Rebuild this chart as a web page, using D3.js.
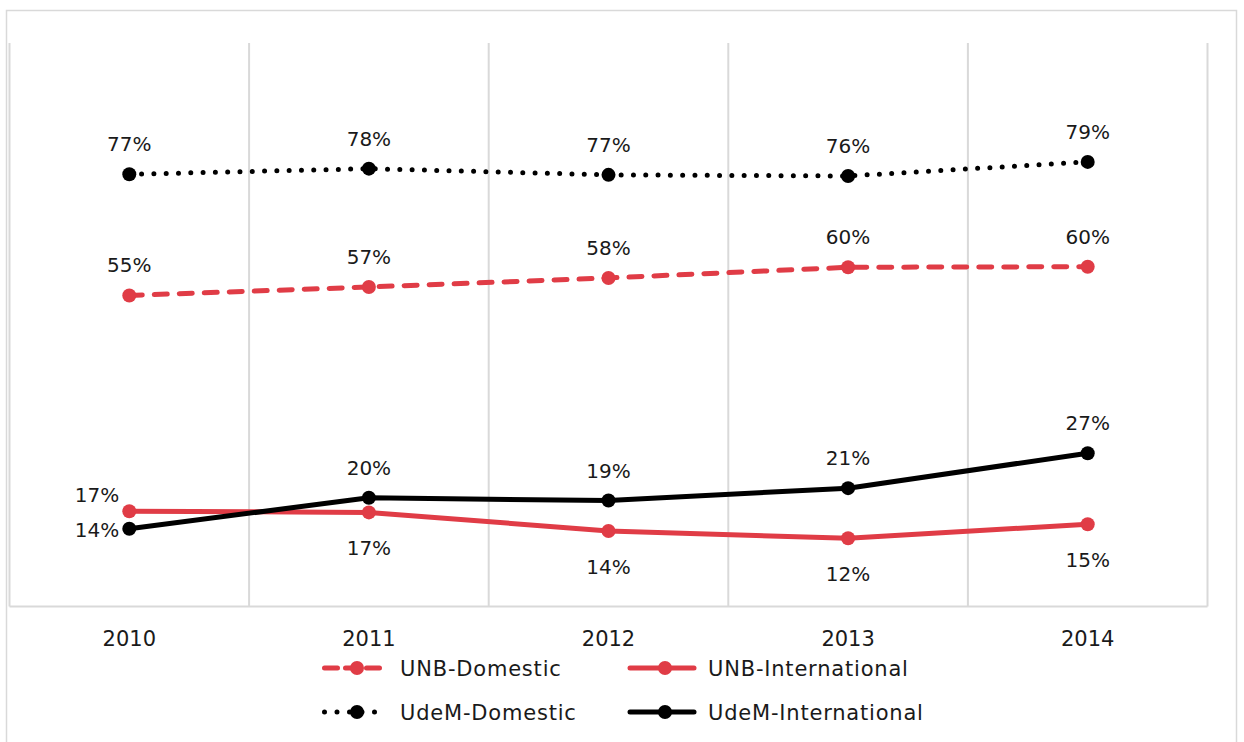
<!DOCTYPE html>
<html>
<head>
<meta charset="utf-8">
<script src="https://cdn.jsdelivr.net/npm/d3@7"></script>
<style>
  body { margin: 0; background: #fff; }
  svg text { font-family: "DejaVu Sans", "Lato", sans-serif; fill: #1a1a1a; }
</style>
</head>
<body>
<div id="chart"></div>
<script>
// data (percent)
const years = ["2010", "2011", "2012", "2013", "2014"];
const unbDomestic = [55.2, 56.7, 58.3, 60.2, 60.3];
const unbInternational = [16.9, 16.7, 13.4, 12.1, 14.6];
const udemDomestic = [76.7, 77.7, 76.6, 76.4, 78.9];
const udemInternational = [13.8, 19.3, 18.8, 21.0, 27.2];
const unbDomLabels = ["55%", "57%", "58%", "60%", "60%"];
const unbIntLabels = ["17%", "17%", "14%", "12%", "15%"];
const udemDomLabels = ["77%", "78%", "77%", "76%", "79%"];
const udemIntLabels = ["14%", "20%", "19%", "21%", "27%"];

const W = 1244, H = 742;
const red = "#E03C46", black = "#000";

const series = [
  { name: "UNB-Domestic", values: unbDomestic, labels: unbDomLabels, color: red, dash: "13,12", legDash: "13,8", pos: ["above", "above", "above", "above", "above"] },
  { name: "UNB-International", values: unbInternational, labels: unbIntLabels, color: red, dash: null, legDash: null, pos: ["upleft", "below", "below", "below", "below"] },
  { name: "UdeM-Domestic", values: udemDomestic, labels: udemDomLabels, color: black, dash: "0,12.3", legDash: "0,12.5", pos: ["above", "above", "above", "above", "above"] },
  { name: "UdeM-International", values: udemInternational, labels: udemIntLabels, color: black, dash: null, legDash: null, pos: ["left", "above", "above", "above", "above"] }
];

const svg = d3.select("#chart").append("svg")
  .attr("width", W).attr("height", H);

// outer chart border
svg.append("rect")
  .attr("x", 6.5).attr("y", 10.5)
  .attr("width", 1230).attr("height", 740)
  .attr("fill", "none").attr("stroke", "#d9d9d9").attr("stroke-width", 1.5);

const plot = { left: 9.5, right: 1207.5, top: 43, bottom: 606.5 };

const x = d3.scaleBand().domain(years).range([plot.left, plot.right]);
const y = d3.scaleLinear().domain([0, 100]).range([plot.bottom, plot.top]);

// vertical grid lines between categories
const gridX = years.map(d => x(d)).concat([plot.right]);
svg.append("g").selectAll("line")
  .data(gridX).enter().append("line")
  .attr("x1", d => d).attr("x2", d => d)
  .attr("y1", plot.top).attr("y2", plot.bottom)
  .attr("stroke", "#d9d9d9").attr("stroke-width", 2);

// baseline
svg.append("line")
  .attr("x1", plot.left).attr("x2", plot.right)
  .attr("y1", plot.bottom).attr("y2", plot.bottom)
  .attr("stroke", "#d9d9d9").attr("stroke-width", 2);

// x axis labels
const xAxis = d3.axisBottom(x).tickSize(0).tickPadding(25);
const gx = svg.append("g").attr("transform", `translate(0,${plot.bottom})`).call(xAxis);
gx.select(".domain").remove();
gx.selectAll("text").style("font-size", "21px").style("font-family", "DejaVu Sans").attr("fill", "#1a1a1a");

const cx = d => x(d) + x.bandwidth() / 2;

const line = d3.line()
  .x((d, i) => cx(years[i]))
  .y(d => y(d));

// draw series
series.forEach(s => {
  const g = svg.append("g");
  g.append("path")
    .attr("d", line(s.values))
    .attr("fill", "none")
    .attr("stroke", s.color)
    .attr("stroke-width", 5)
    .attr("stroke-linecap", "round")
    .attr("stroke-linejoin", "round")
    .attr("stroke-dasharray", s.dash);
  g.selectAll("circle").data(s.values).enter().append("circle")
    .attr("cx", (d, i) => cx(years[i]))
    .attr("cy", d => y(d))
    .attr("r", 7)
    .attr("fill", s.color);
  g.selectAll("text").data(s.values).enter().append("text")
    .attr("x", (d, i) => {
      const p = s.pos[i];
      return (p === "left" || p === "upleft") ? cx(years[i]) - 10 : cx(years[i]);
    })
    .attr("y", (d, i) => {
      const p = s.pos[i];
      if (p === "above") return y(d) - 23;
      if (p === "below") return y(d) + 43;
      if (p === "upleft") return y(d) - 9;
      return y(d) + 8;
    })
    .attr("text-anchor", (d, i) => (s.pos[i] === "left" || s.pos[i] === "upleft") ? "end" : "middle")
    .style("font-size", "20px")
    .text((d, i) => s.labels[i]);
});

// legend
const legendPos = [
  { lx: 322, ty: 668 }, { lx: 630, ty: 668 },
  { lx: 322, ty: 712 }, { lx: 630, ty: 712 }
];
series.forEach((s, i) => {
  const p = legendPos[i];
  const g = svg.append("g").attr("transform", `translate(${p.lx},${p.ty})`);
  const len = 64;
  g.append("line")
    .attr("x1", s.dash ? 2.5 : 0).attr("x2", s.dash ? len - 2 : len)
    .attr("y1", 0).attr("y2", 0)
    .attr("stroke", s.color).attr("stroke-width", 5)
    .attr("stroke-linecap", "round")
    .attr("stroke-dasharray", s.legDash);
  g.append("circle").attr("cx", 35).attr("cy", 0).attr("r", 7).attr("fill", s.color);
  g.append("text")
    .attr("x", 78).attr("y", 8)
    .style("font-size", "21px")
    .style("letter-spacing", "0.8px")
    .text(s.name);
});
</script>
</body>
</html>
